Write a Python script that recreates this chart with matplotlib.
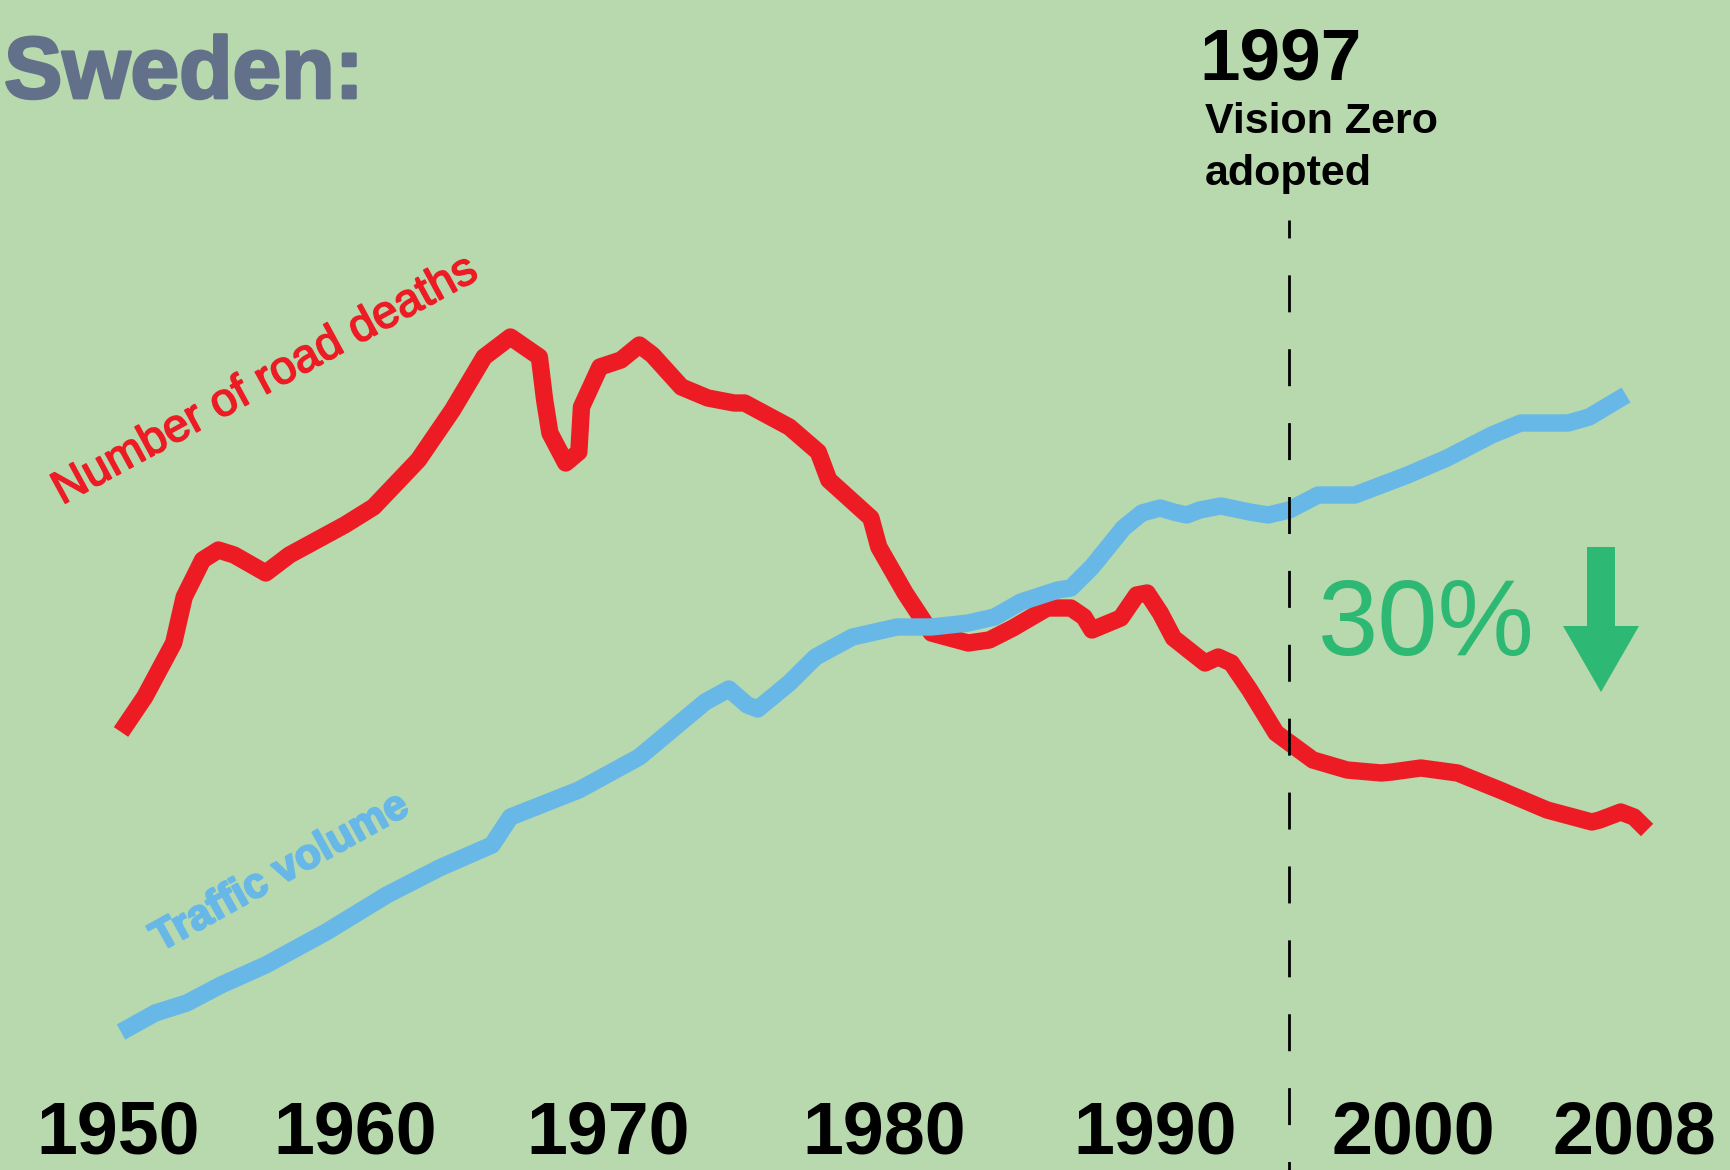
import matplotlib
matplotlib.use("Agg")
import matplotlib.pyplot as plt
import matplotlib.patheffects as pe
import matplotlib.transforms as mtransforms
from matplotlib.patches import Polygon

plt.rcParams['font.family'] = ['Liberation Sans', 'DejaVu Sans']
plt.rcParams['lines.scale_dashes'] = False

# relative index (the chart has no y scale)
deaths_years = [1950.0, 1950.9, 1952.0, 1952.4, 1953.1, 1953.7, 1954.3, 1955.5, 1956.4, 1958.5,
                1959.6, 1961.3, 1962.6, 1963.8, 1964.8, 1965.9, 1966.1, 1966.3, 1966.9, 1967.4,
                1967.5, 1968.2, 1969.0, 1969.7, 1970.2, 1971.3, 1972.3, 1973.3, 1973.7, 1975.4,
                1976.5, 1976.9, 1978.5, 1978.8, 1979.8, 1980.8, 1982.2, 1983.0, 1983.9, 1985.2,
                1986.1, 1986.6, 1986.9, 1988.0, 1988.6, 1989.0, 1989.5, 1990.0, 1991.2, 1991.7,
                1992.2, 1992.9, 1993.9, 1995.3, 1996.6, 1997.9, 1998.3, 1999.4, 2000.8, 2002.4,
                2004.2, 2005.9, 2006.2, 2007.0, 2007.5, 2008.0]
road_deaths = [43.8, 47.3, 52.7, 57.3, 61.0, 62.0, 61.5, 59.7, 61.5, 64.5,
               66.3, 71.0, 76.0, 81.3, 83.3, 81.3, 77.0, 73.7, 70.7, 71.8,
               76.3, 80.3, 81.0, 82.5, 81.5, 78.3, 77.2, 76.7, 76.7, 74.3,
               71.8, 69.0, 65.2, 62.3, 57.7, 53.7, 52.7, 53.0, 54.2, 56.2,
               56.2, 55.3, 54.0, 55.2, 57.5, 57.7, 55.7, 53.2, 50.7, 51.3,
               50.7, 48.0, 43.7, 41.0, 40.0, 39.7, 39.8, 40.2, 39.7, 38.0,
               36.0, 34.8, 35.0, 35.8, 35.3, 34.0]

traffic_years = [1950.0, 1951.3, 1952.5, 1953.8, 1955.5, 1957.8, 1960.1, 1962.1, 1964.1, 1964.3,
                 1964.8, 1967.4, 1969.7, 1972.2, 1973.1, 1973.8, 1974.2, 1975.4, 1976.4, 1977.8,
                 1979.5, 1980.8, 1982.2, 1983.2, 1984.2, 1985.6, 1986.1, 1986.9, 1988.1, 1988.8,
                 1989.5, 1990.0, 1990.5, 1991.0, 1991.8, 1992.9, 1993.6, 1994.4, 1995.5, 1996.9,
                 1998.9, 2000.4, 2002.1, 2003.2, 2005.0, 2005.8, 2007.2]
traffic_volume = [13.8, 15.7, 16.7, 18.5, 20.5, 23.8, 27.5, 30.2, 32.5, 33.3,
                  35.3, 38.0, 41.3, 46.8, 48.1, 46.5, 46.1, 48.7, 51.3, 53.3,
                  54.3, 54.3, 54.7, 55.3, 56.8, 58.0, 58.2, 60.3, 64.2, 65.7,
                  66.2, 65.8, 65.5, 66.0, 66.4, 65.8, 65.5, 66.0, 67.5, 67.5,
                  69.5, 71.2, 73.5, 74.7, 74.7, 75.3, 77.5]

tick_labels = ['1950', '1960', '1970', '1980', '1990', '2000', '2008']
tick_pos = [1949.9, 1958.9, 1968.5, 1979.0, 1989.3, 1999.1, 2007.5]
vision_zero_x = 1994.4  # where the original draws its 1997 marker

BG = '#B8D8AE'
RED = '#ED1C24'
BLUE = '#67B8E7'
GREEN = '#2DB874'
SLATE = '#627089'

W, H = 1731, 1170


def fx(x):
    return x / W


def fy(y):
    return 1 - y / H


fig = plt.figure(figsize=(W / 100, H / 100), dpi=100)
fig.patch.set_facecolor(BG)
ax = fig.add_axes([0, 0, 1, 1])
ax.set_facecolor(BG)
ax.set_xlim(1945.40, 2011.19)
ax.set_ylim(0, 117)
ax.set_xticks([])
ax.set_yticks([])
for s in ax.spines.values():
    s.set_visible(False)

ax.plot(deaths_years, road_deaths, color=RED, lw=12.5,
        solid_capstyle='butt', solid_joinstyle='round', zorder=2)
ax.plot(traffic_years, traffic_volume, color=BLUE, lw=12.5,
        solid_capstyle='butt', solid_joinstyle='round', zorder=3)
ax.plot([vision_zero_x, vision_zero_x], [95.0, 0], color='black', lw=2,
        linestyle=(13.7, (26.6, 26.6)), zorder=4)

# year labels along the bottom edge
trans = mtransforms.blended_transform_factory(ax.transData, fig.transFigure)
for pos, lab in zip(tick_pos, tick_labels):
    ax.text(pos, fy(1154), lab, transform=trans, ha='center', va='baseline',
            fontsize=53, fontweight='bold', color='black')

fig.text(fx(4), fy(98), 'Sweden:', fontsize=63, fontweight='bold', color=SLATE,
         va='baseline', path_effects=[pe.withStroke(linewidth=2, foreground=SLATE)])

fig.text(fx(1199), fy(79), '1997', fontsize=52.5, fontweight='bold', va='baseline')
fig.text(fx(1205), fy(133), 'Vision Zero', fontsize=31, fontweight='bold', va='baseline')
fig.text(fx(1205), fy(185), 'adopted', fontsize=31, fontweight='bold', va='baseline')

fig.text(fx(62), fy(505), 'Number of road deaths', fontsize=33.5,
         color=RED, rotation=28.5, rotation_mode='anchor', ha='left', va='baseline',
         path_effects=[pe.withStroke(linewidth=1.2, foreground=RED)])
fig.text(fx(160), fy(952), 'Traffic volume', fontsize=30.5, fontweight='bold',
         color=BLUE, rotation=29, rotation_mode='anchor', ha='left', va='baseline',
         path_effects=[pe.withStroke(linewidth=1.5, foreground=BLUE)])

fig.text(fx(1318), fy(655.5), '30%', fontsize=78, color=GREEN, va='baseline')

# down arrow
shaft_l, shaft_r, top, head_y = 1587, 1615, 547, 626
head_l, head_r, tip_x, tip_y = 1563, 1639, 1601, 692
arrow = [(shaft_l, top), (shaft_r, top), (shaft_r, head_y), (head_r, head_y),
         (tip_x, tip_y), (head_l, head_y), (shaft_l, head_y)]
fig.patches.append(Polygon([(fx(x), fy(y)) for x, y in arrow], closed=True,
                           facecolor=GREEN, edgecolor='none',
                           transform=fig.transFigure, figure=fig))

fig.savefig('out.png', dpi=100, facecolor=BG)
